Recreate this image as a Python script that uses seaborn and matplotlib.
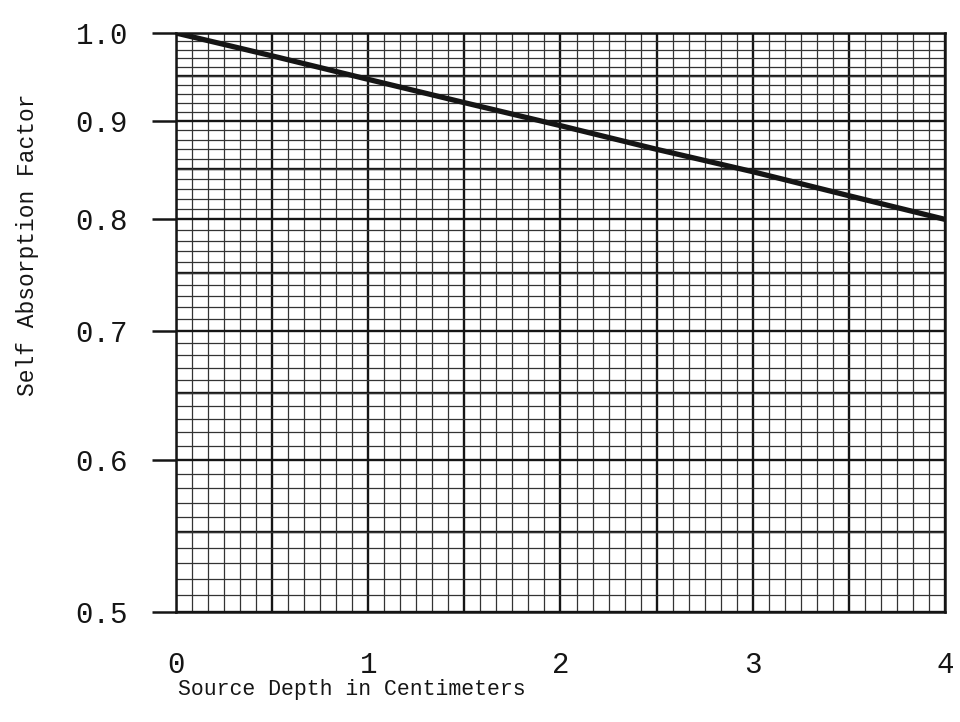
import matplotlib
matplotlib.use("Agg")
import matplotlib.pyplot as plt
import matplotlib.ticker as mticker
import seaborn as sns
import pandas as pd

# values (semi-log paper)
depth_cm = [0.0, 0.5, 1.0, 1.5, 2.0, 2.5, 3.0, 3.5, 4.0]
self_abs = [1.000, 0.973, 0.946, 0.920, 0.895, 0.870, 0.847, 0.823, 0.800]

y_labeled = [0.5, 0.6, 0.7, 0.8, 0.9, 1.0]
y_bold = [0.55, 0.65, 0.75, 0.85, 0.95]

df = pd.DataFrame({"depth": depth_cm, "factor": self_abs})

sns.set_style("white")
plt.rcParams['font.family'] = ['Liberation Mono', 'DejaVu Sans Mono']
ink = '#151515'

fig = plt.figure(figsize=(9.6, 7.22), dpi=100)
ax = fig.add_axes([0.1833, 0.1524, 0.8011, 0.8019])

ax.set_yscale('log')
ax.set_xlim(0, 4)
ax.set_ylim(0.5, 1.0)

# graph-paper grid
ax.xaxis.set_major_locator(mticker.MultipleLocator(0.5))
ax.xaxis.set_minor_locator(mticker.MultipleLocator(1 / 12))
ax.xaxis.set_major_formatter(mticker.FuncFormatter(
    lambda v, p: f"{v:.0f}" if abs(v - round(v)) < 1e-6 else ""))
ax.yaxis.set_major_locator(mticker.FixedLocator(y_labeled))
ax.yaxis.set_major_formatter(mticker.FixedFormatter([f"{v:.1f}" for v in y_labeled]))
ax.yaxis.set_minor_locator(mticker.FixedLocator([0.5 + i * 0.01 for i in range(51)]))
ax.yaxis.set_minor_formatter(mticker.NullFormatter())

ax.grid(which='major', color=ink, lw=1.7)
ax.grid(which='minor', color='#333333', lw=0.9)
for v in y_bold:
    ax.axhline(v, color=ink, lw=1.7, zorder=0.5)
ax.set_axisbelow(True)

sns.lineplot(data=df, x="depth", y="factor", ax=ax, color=ink, lw=3.8, zorder=5)

for s in ax.spines.values():
    s.set_color(ink)
    s.set_linewidth(1.8)

ax.tick_params(axis='x', which='both', bottom=False, length=0, pad=28, labelsize=21, colors=ink)
ax.tick_params(axis='y', which='major', left=True, length=17.5, width=1.8, pad=17,
               labelsize=21, colors=ink)
ax.tick_params(axis='y', which='minor', left=False, length=0)

ax.set_xlabel("Source Depth in Centimeters", fontsize=15.5, color=ink)
ax.xaxis.set_label_coords(0.228, -0.115)
ax.set_ylabel("Self Absorption Factor", fontsize=16.5, color=ink)
ax.yaxis.set_label_coords(-0.178, 0.634)

fig.savefig("out.png", dpi=100)
